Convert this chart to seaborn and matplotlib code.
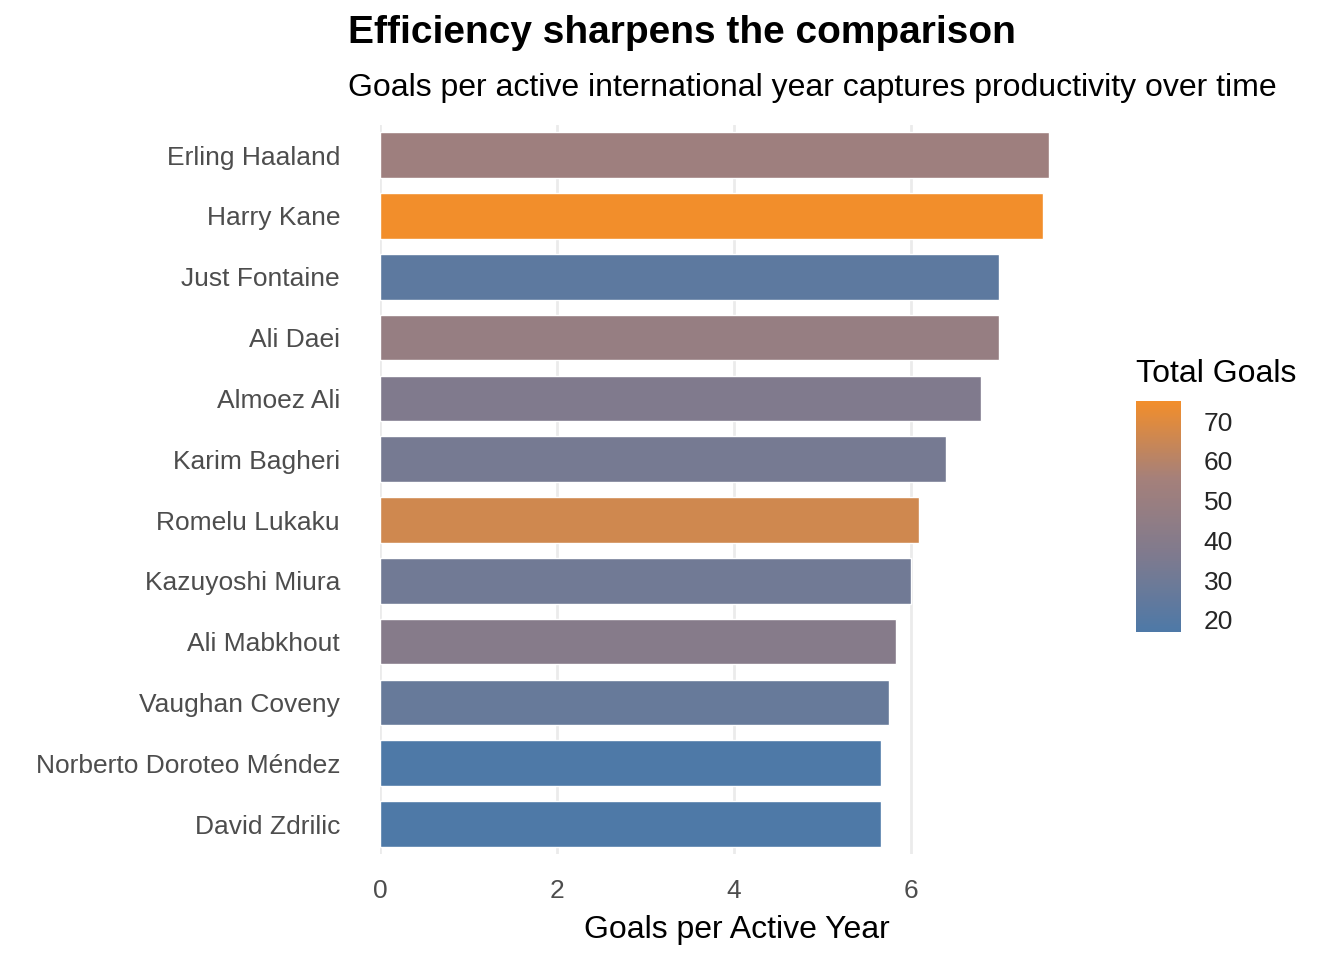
import numpy as np
import pandas as pd
import matplotlib.pyplot as plt
import matplotlib as mpl
from matplotlib.colors import LinearSegmentedColormap, Normalize
import seaborn as sns

players = ["Erling Haaland", "Harry Kane", "Just Fontaine", "Ali Daei", "Almoez Ali",
           "Karim Bagheri", "Romelu Lukaku", "Kazuyoshi Miura", "Ali Mabkhout",
           "Vaughan Coveny", "Norberto Doroteo Méndez", "David Zdrilic"]
goals_per_year = [7.57, 7.5, 7.0, 7.0, 6.8, 6.4, 6.09, 6.0, 5.83, 5.75, 5.67, 5.67]
total_goals = [52, 75, 23, 48, 37, 33, 66, 31, 40, 27, 17, 17]

df = pd.DataFrame({"player": players, "gpy": goals_per_year, "goals": total_goals})

sns.set_theme(style="whitegrid")
plt.rcParams['font.family'] = ['Liberation Sans', 'DejaVu Sans']

cmap = LinearSegmentedColormap.from_list("bo", ["#4E79A7", "#7F7A8E", "#A5807A", "#F28E2B"])
norm = Normalize(vmin=min(total_goals), vmax=max(total_goals))
pal = {p: cmap(norm(g)) for p, g in zip(players, total_goals)}

fig = plt.figure(figsize=(13.44, 9.6), dpi=100)
ax = fig.add_axes([0.283, 0.11, 0.53, 0.76])
sns.barplot(data=df, x="gpy", y="player", hue="player", palette=pal,
            legend=False, width=0.75, saturation=1, ax=ax)
ax.set_xlim(0, 8.06)
ax.set_xticks([0, 2, 4, 6])
ax.grid(axis="y", visible=False)
ax.grid(axis="x", color="#ebebeb", linewidth=2)
for s in ax.spines.values():
    s.set_visible(False)
ax.tick_params(axis="both", length=0, labelsize=19, labelcolor="#4d4d4d")
ax.tick_params(axis="y", pad=29)
ax.tick_params(axis="x", pad=18)
ax.set_ylabel("")
ax.set_xlabel("Goals per Active Year", fontsize=23, color="black", labelpad=8)

fig.text(0.259, 0.966, "Efficiency sharpens the comparison", fontsize=28,
         fontweight="bold", va="center", color="black")
fig.text(0.259, 0.908, "Goals per active international year captures productivity over time",
         fontsize=23, va="center", color="black")

cax = fig.add_axes([0.845, 0.342, 0.034, 0.24])
cb = mpl.colorbar.ColorbarBase(cax, cmap=cmap, norm=norm)
cb.set_ticks([20, 30, 40, 50, 60, 70])
cb.outline.set_visible(False)
cax.tick_params(labelsize=19, length=6, color="white", direction="in", pad=16)
cax.set_title("Total Goals", fontsize=23, loc="left", pad=14, color="black")

fig.savefig("out.png", dpi=100)
